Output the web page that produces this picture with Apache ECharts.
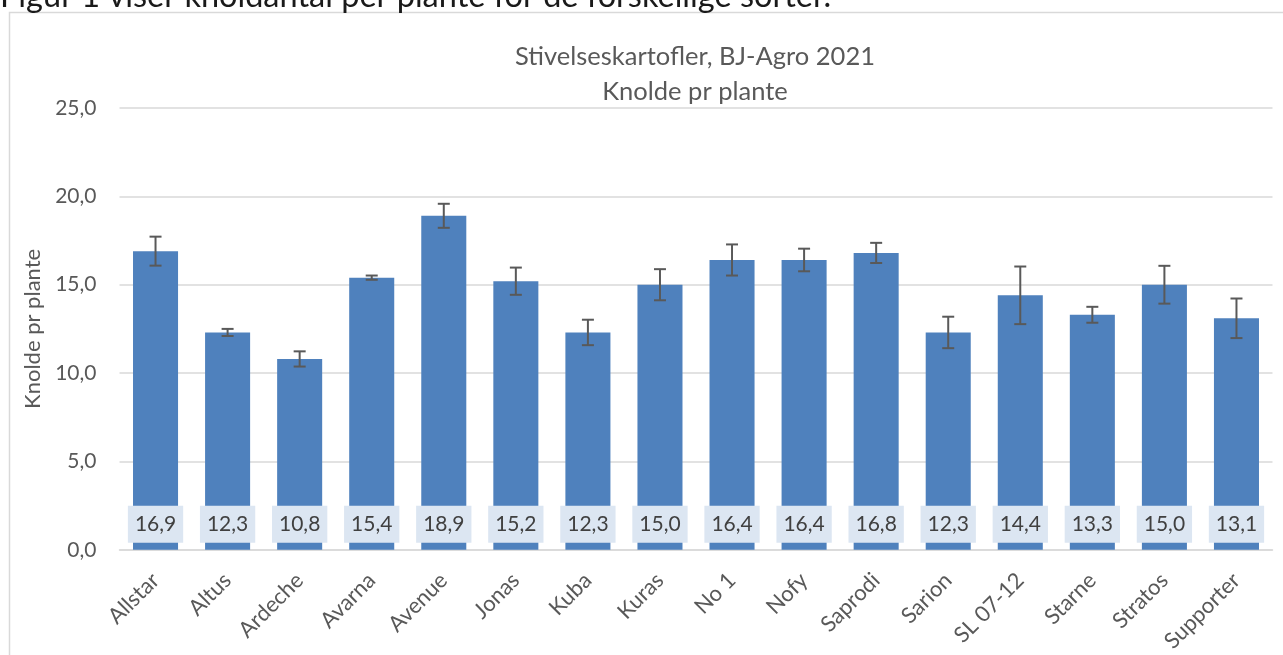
<!DOCTYPE html>
<html>
<head>
<meta charset="utf-8">
<script src="https://cdn.jsdelivr.net/npm/echarts@6/dist/echarts.min.js"></script>
<style>
  html, body { margin: 0; padding: 0; background: #fff; }
  #chart { width: 1283px; height: 655px; }
</style>
</head>
<body>
<div id="chart"></div>
<script>
// sorter og knolde pr plante
var sorter = ['Allstar', 'Altus', 'Ardeche', 'Avarna', 'Avenue', 'Jonas', 'Kuba', 'Kuras',
    'No 1', 'Nofy', 'Saprodi', 'Sarion', 'SL 07-12', 'Starne', 'Stratos', 'Supporter'];
var knolde = [16.9, 12.3, 10.8, 15.4, 18.9, 15.2, 12.3, 15.0, 16.4, 16.4, 16.8, 12.3, 14.4, 13.3, 15.0, 13.1];
// fejllinjer (+/-)
var fejl = [0.82, 0.2, 0.43, 0.12, 0.68, 0.77, 0.72, 0.88, 0.88, 0.64, 0.57, 0.89, 1.63, 0.45, 1.07, 1.12];

var font = 'Lato';
var grey = '#595959';

function komma(v) {
    return Number(v).toFixed(1).replace('.', ',');
}

var errData = [];
for (var i = 0; i < sorter.length; i++) {
    errData.push([i, knolde[i], fejl[i]]);
}

// tegner fejllinje med "caps"
function errorBar(params, api) {
    var x = api.value(0);
    var v = api.value(1);
    var e = api.value(2);
    var hi = api.coord([x, v + e]);
    var lo = api.coord([x, v - e]);
    var w = 6;
    var st = { stroke: grey, lineWidth: 2 };
    return {
        type: 'group',
        children: [
            { type: 'line', shape: { x1: hi[0], y1: hi[1], x2: lo[0], y2: lo[1] }, style: st },
            { type: 'line', shape: { x1: hi[0] - w, y1: hi[1], x2: hi[0] + w, y2: hi[1] }, style: st },
            { type: 'line', shape: { x1: lo[0] - w, y1: lo[1], x2: lo[0] + w, y2: lo[1] }, style: st }
        ]
    };
}

var chart = echarts.init(document.getElementById('chart'));

var opt = {
    animation: false,
    textStyle: { fontFamily: font },
    graphic: [
        {
            type: 'rect',
            silent: true,
            z: -10,
            shape: { x: 9.5, y: 12.5, width: 1400, height: 800 },
            style: { fill: 'none', stroke: '#d9d9d9', lineWidth: 1.5 }
        },
        {
            type: 'text',
            silent: true,
            left: 0,
            top: -20,
            style: {
                text: 'Figur 1 viser knoldantal per plante for de forskellige sorter.',
                font: '32.5px Lato',
                fill: '#1a1a1a'
            }
        }
    ],
    title: {
        text: 'Stivelseskartofler, BJ-Agro 2021\nKnolde pr plante',
        left: 690,
        textAlign: 'center',
        top: 34,
        textStyle: {
            fontFamily: font,
            fontSize: 25.5,
            fontWeight: 'normal',
            color: grey,
            lineHeight: 35
        }
    },
    grid: {
        left: 119.5,
        right: 10.5,
        top: 108,
        bottom: 105
    },
    xAxis: {
        type: 'category',
        data: sorter,
        axisLine: { lineStyle: { color: '#d9d9d9', width: 1.5 } },
        axisTick: { show: false },
        axisLabel: {
            rotate: 45,
            margin: 27,
            interval: 0,
            color: grey,
            fontFamily: font,
            fontSize: 22
        }
    },
    yAxis: {
        type: 'value',
        min: 0,
        max: 25,
        interval: 5,
        name: 'Knolde pr plante',
        nameLocation: 'middle',
        nameGap: 76,
        nameTextStyle: { color: grey, fontFamily: font, fontSize: 22 },
        axisLine: { show: false },
        axisTick: { show: false },
        splitLine: { lineStyle: { color: '#d9d9d9', width: 1.5 } },
        axisLabel: {
            margin: 23,
            color: grey,
            fontFamily: font,
            fontSize: 21,
            formatter: function (v) { return komma(v); }
        }
    },
    series: [
        {
            name: 'Knolde pr plante',
            type: 'bar',
            data: knolde,
            barWidth: '62.5%',
            itemStyle: { color: '#4f81bd' },
            label: {
                show: true,
                position: 'insideBottom',
                distance: 7,
                color: '#404040',
                fontFamily: font,
                fontSize: 21,
                backgroundColor: '#dce6f2',
                padding: [8, 7, 8, 7],
                formatter: function (p) { return komma(p.value); }
            },
            z: 2
        },
        {
            type: 'custom',
            renderItem: errorBar,
            data: errData,
            z: 3
        }
    ]
};

chart.setOption(opt);
</script>
</body>
</html>
